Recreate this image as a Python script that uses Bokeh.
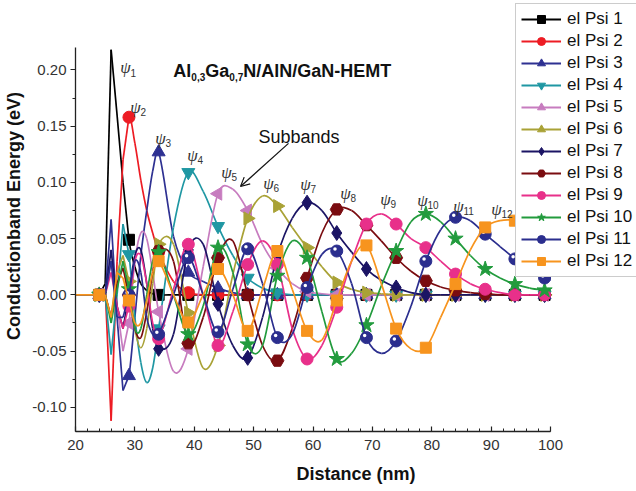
import numpy as np
from bokeh.plotting import figure
from bokeh.models import (Range1d, FixedTicker, PrintfTickFormatter, Legend, LegendItem,
                          Arrow, OpenHead, ColumnDataSource)
from bokeh.embed import file_html
from bokeh.resources import INLINE
from bokeh.core.properties import value

# ---------------- data ----------------
distance = [20, 23, 24, 25, 26, 27, 28, 29, 30, 31, 32, 33, 34, 36.5, 39, 41.5, 44, 46.5,
            49, 51.5, 54, 56.5, 59, 61.5, 64, 66.5, 69, 71.5, 74, 76.5, 79, 81.5, 84, 86.5,
            89, 91.5, 94, 96.5, 99, 100]

psi1 = [0, 0, 0, 0.01, 0.218, 0.16, 0.10, 0.049, 0.025, 0.01, 0.004, 0.001, 0.0, 0, 0, 0, 0, 0,
        0, 0, 0, 0, 0, 0, 0, 0, 0, 0, 0, 0, 0, 0, 0, 0, 0, 0, 0, 0, 0, 0]
psi2 = [0, 0, 0, 0.005, -0.112, 0.03, 0.12, 0.158, 0.135, 0.102, 0.075, 0.055, 0.038, 0.012, 0.002,
        0, 0, 0, 0, 0, 0, 0, 0, 0, 0, 0, 0, 0, 0, 0, 0, 0, 0, 0, 0, 0, 0, 0, 0, 0]
psi3 = [0, 0, 0, 0.0, 0.067, -0.02, -0.085, -0.072, -0.02, 0.035, 0.075, 0.11, 0.127, 0.052, 0.02,
        0.012, 0.006, 0.002, 0, 0, 0, 0, 0, 0, 0, 0, 0, 0, 0, 0, 0, 0, 0, 0, 0, 0, 0, 0, 0, 0]
psi4 = [0, 0, 0, 0.0, -0.053, 0.0, 0.063, 0.036, -0.02, -0.06, -0.078, -0.065, -0.03, 0.06, 0.109,
        0.092, 0.061, 0.035, 0.015, 0.006, 0.002, 0, 0, 0, 0, 0, 0, 0, 0, 0, 0, 0, 0, 0, 0, 0,
        0, 0, 0, 0]
psi5 = [0, 0, 0, 0.0, 0.03, -0.01, -0.05, -0.025, 0.03, 0.055, 0.05, 0.02, -0.015, -0.068, -0.048,
        0.025, 0.09, 0.094, 0.075, 0.045, 0.024, 0.01, 0.003, 0.001, 0, 0, 0, 0, 0, 0, 0, 0, 0,
        0, 0, 0, 0, 0, 0, 0]
psi6 = [0, 0, 0, 0.0, -0.02, 0.02, 0.035, 0.012, -0.03, -0.047, -0.03, 0.01, 0.045, 0.045, -0.016,
        -0.065, -0.045, 0.018, 0.068, 0.088, 0.079, 0.06, 0.042, 0.025, 0.011, 0.005, 0.002, 0.001,
        0, 0, 0, 0, 0, 0, 0, 0, 0, 0, 0, 0]
psi7 = [0, 0, 0, 0.0, 0.04, -0.01, -0.03, 0.0, 0.035, 0.04, 0.01, -0.03, -0.048, -0.035, 0.04,
        0.045, -0.008, -0.045, -0.056, -0.02, 0.035, 0.068, 0.082, 0.075, 0.055, 0.038, 0.023,
        0.013, 0.0066, 0.002, 0.0, 0, 0, 0, 0, 0, 0, 0, 0, 0]
psi8 = [0, 0, 0, 0.0, -0.02, 0.01, 0.024, 0.0, -0.03, -0.038, -0.015, 0.02, 0.039, 0.03, -0.043,
        -0.02, 0.033, 0.048, 0.0, -0.045, -0.0585, -0.03, 0.015, 0.055, 0.076, 0.075, 0.062, 0.048,
        0.033, 0.021, 0.0125, 0.007, 0.004, 0.002, 0.001, 0, 0, 0, 0, 0]
psi9 = [0, 0, 0, 0.0, 0.02, -0.01, -0.03, -0.01, 0.03, 0.035, 0.01, -0.025, -0.039, 0.005, 0.045,
        0.0, -0.045, -0.015, 0.027, 0.048, 0.027, -0.03, -0.057, -0.045, -0.011, 0.03, 0.063, 0.072,
        0.063, 0.05, 0.042, 0.03, 0.0185, 0.01, 0.005, 0.002, 0.0, 0, 0, 0]
psi10 = [0, 0, 0, 0.0, -0.025, 0.005, 0.03, 0.005, -0.03, -0.03, 0.0, 0.03, 0.038, 0.0, -0.035,
         -0.01, 0.042, 0.02, -0.044, -0.045, 0.017, 0.048, 0.033, -0.015, -0.057, -0.052, -0.027,
         0.008, 0.039, 0.065, 0.072, 0.065, 0.050, 0.035, 0.023, 0.015, 0.0096, 0.006, 0.004, 0.0035]
psi11 = [0, 0, 0, 0.0, 0.03, -0.02, -0.02, 0.0, 0.03, 0.02, -0.02, -0.035, -0.035, 0.0, 0.033,
         0.0, -0.033, 0.005, 0.041, 0.01, -0.038, -0.035, 0.0066, 0.036, 0.039, 0.01, -0.038,
         -0.052, -0.041, -0.01, 0.030, 0.058, 0.069, 0.066, 0.054, 0.043, 0.032, 0.022, 0.015, 0.013]
psi12 = [0, 0, 0, 0.0, -0.02, 0.02, 0.015, -0.005, -0.025, -0.025, -0.005, 0.02, 0.030, 0.0,
         -0.0245, 0.0, 0.023, 0.0, -0.032, 0.005, 0.039, 0.005, -0.032, -0.04, -0.005, 0.03, 0.044,
         0.01, -0.030, -0.048, -0.047, -0.02, 0.0096, 0.04, 0.060, 0.066, 0.066, 0.06, 0.05, 0.047]

marker_distance = [24, 29, 34, 39, 44, 49, 54, 59, 64, 69, 74, 79, 84, 89, 94, 99]
series_names = ["el Psi %d" % k for k in range(1, 13)]
series_values = [psi1, psi2, psi3, psi4, psi5, psi6, psi7, psi8, psi9, psi10, psi11, psi12]

x_ticks = [20, 30, 40, 50, 60, 70, 80, 90, 100]
y_ticks = [-0.10, -0.05, 0.00, 0.05, 0.10, 0.15, 0.20]

# ---------------- styles ----------------
colors = ["#000000", "#ED1C24", "#2E3192", "#1F97A3", "#C77CBF", "#A9A236",
          "#1B1464", "#7A0C10", "#E8308A", "#229B3D", "#2B2E8E", "#F7941E"]
markers = ["square", "circle", "triangle", "inverted_triangle", "triangle", "triangle",
           "diamond", "hex", "circle", "star", "circle", "square"]
angles = [0, 0, 0, 0, np.pi / 2, -np.pi / 2, 0, 0, 0, 0, 0, 0]
sizes = [11, 12, 13, 13, 13, 13, 15, 13, 12, 16, 12, 11]
glossy = [False] * 10 + [True, False]

FONT = "Liberation Sans"

# The frame runs to the right and top edges of the page so that the legend
# (which overlaps the top-right corner) is not clipped; the axes are bounded.
p = figure(width=636, height=491, output_backend="svg", toolbar_location=None,
           x_range=Range1d(20, 114.48), y_range=Range1d(-0.1215, 0.2618),
           min_border_left=75, min_border_right=0, min_border_top=0, min_border_bottom=60)
p.outline_line_color = None
p.grid.visible = False
p.background_fill_color = "white"
p.border_fill_color = "white"

# axes
p.xaxis.ticker = FixedTicker(ticks=x_ticks, minor_ticks=list(range(20, 101, 2)))
p.yaxis.ticker = FixedTicker(ticks=y_ticks,
                             minor_ticks=[-0.1, -0.075, -0.05, -0.025, 0.0, 0.025, 0.05, 0.075,
                                          0.1, 0.125, 0.15, 0.175, 0.2])
p.xaxis.bounds = (20, 100)
p.yaxis.bounds = (-0.1215, 0.22)
p.yaxis.formatter = PrintfTickFormatter(format="%.2f")
p.xaxis.axis_label = "Distance (nm)"
p.yaxis.axis_label = "Conductionband Energy (eV)"
for ax in (p.xaxis[0], p.yaxis[0]):
    ax.axis_line_color = "#222222"
    ax.axis_line_width = 1.3
    ax.major_tick_line_color = "#222222"
    ax.minor_tick_line_color = "#222222"
    ax.major_tick_line_width = 1.2
    ax.minor_tick_line_width = 1.0
    ax.major_label_text_font = FONT
    ax.major_label_text_font_size = "15px"
    ax.major_label_text_color = "#333333"
    ax.axis_label_text_font = FONT
    ax.axis_label_text_font_size = "18px"
    ax.axis_label_text_font_style = "bold"
    ax.axis_label_text_color = "#111111"
p.xaxis.major_tick_in = 5
p.xaxis.major_tick_out = 0
p.xaxis.minor_tick_in = 3
p.xaxis.minor_tick_out = 0
p.xaxis.major_label_standoff = 8
p.xaxis.axis_label_standoff = 11
p.yaxis.major_tick_in = 0
p.yaxis.major_tick_out = 5
p.yaxis.minor_tick_in = 0
p.yaxis.minor_tick_out = 3
p.yaxis.major_label_standoff = 4
p.yaxis.axis_label_standoff = 5


def curve_segments(xs, ys):
    """Cubic Bezier pieces through the read points (straight in the sharp barrier region)."""
    n = len(xs)
    m = []
    for i in range(n):
        if i == 0:
            m.append((ys[1] - ys[0]) / (xs[1] - xs[0]))
        elif i == n - 1:
            m.append((ys[-1] - ys[-2]) / (xs[-1] - xs[-2]))
        else:
            m.append((ys[i + 1] - ys[i - 1]) / (xs[i + 1] - xs[i - 1]))
    seg = dict(x0=[], y0=[], x1=[], y1=[], cx0=[], cy0=[], cx1=[], cy1=[])
    for i in range(n - 1):
        h = xs[i + 1] - xs[i]
        seg["x0"].append(xs[i]); seg["y0"].append(ys[i])
        seg["x1"].append(xs[i + 1]); seg["y1"].append(ys[i + 1])
        if xs[i + 1] <= 29:
            d = ys[i + 1] - ys[i]
            seg["cx0"].append(xs[i] + h / 3); seg["cy0"].append(ys[i] + d / 3)
            seg["cx1"].append(xs[i] + 2 * h / 3); seg["cy1"].append(ys[i] + 2 * d / 3)
        else:
            seg["cx0"].append(xs[i] + h / 3); seg["cy0"].append(ys[i] + m[i] * h / 3)
            seg["cx1"].append(xs[i + 1] - h / 3); seg["cy1"].append(ys[i + 1] - m[i + 1] * h / 3)
    return seg


marker_idx = [distance.index(v) for v in marker_distance]
items = []
for k, ys in enumerate(series_values):
    col = colors[k]
    seg = curve_segments(distance, ys)
    p.bezier(x0="x0", y0="y0", x1="x1", y1="y1", cx0="cx0", cy0="cy0", cx1="cx1", cy1="cy1",
             source=ColumnDataSource(seg), line_color=col, line_width=1.7)
    mx = [distance[i] for i in marker_idx]
    my = [ys[i] for i in marker_idx]
    lr = p.line(x=[np.nan], y=[np.nan], line_color=col, line_width=1.8)
    sr = p.scatter(x=mx, y=my, marker=markers[k], size=sizes[k], angle=angles[k],
                   fill_color=col, line_color=col, line_width=1)
    if glossy[k]:
        # small white highlight on the upper left of each sphere marker
        hx = [v - 0.3 for v in mx]
        hy = [v + 0.0018 for v in my]
        p.scatter(x=hx, y=hy, marker="circle", size=3.5, fill_color="white", line_color=None)
    items.append(LegendItem(label=series_names[k], renderers=[lr, sr]))

legend = Legend(items=items, location=(440, 154))
legend.margin = 0
legend.padding = 5
legend.spacing = 2
legend.label_height = 20
legend.glyph_height = 20
legend.glyph_width = 40
legend.label_standoff = 6
legend.label_text_font = FONT
legend.label_text_font_size = "17px"
legend.label_text_color = "#111111"
legend.border_line_color = "#9a9a9a"
legend.border_line_width = 1
legend.background_fill_color = "white"
legend.background_fill_alpha = 1.0
p.add_layout(legend)

# ---------------- annotations ----------------
psi_x = [28.42, 30.10, 34.32, 39.71, 45.43, 52.51, 58.74, 65.47, 72.21, 78.44, 84.50, 90.90]
psi_y = [0.2022, 0.1667, 0.1391, 0.1240, 0.1089, 0.0991, 0.0982, 0.0902, 0.0849, 0.0840,
         0.0787, 0.0760]
psi_sub = [str(k) for k in range(1, 13)]
p.text(x=psi_x, y=psi_y, text=["\u03c8"] * 12, text_font=value("Liberation Serif"),
       text_font_style="italic", text_font_size="17px", text_color="#333333",
       text_align="center", text_baseline="middle")
p.text(x=psi_x, y=psi_y, text=psi_sub, text_font=value(FONT), text_font_size="10px",
       text_color="#333333", text_align="left", text_baseline="middle", x_offset=5, y_offset=5)

title_parts = ["Al", "0,3", "Ga", "0,7", "N/AlN/GaN-HEMT"]
title_x = [36.48, 39.51, 41.87, 45.91, 48.27]
title_y = [0.1987, 0.1935, 0.1987, 0.1935, 0.1987]
title_size = ["18px", "10px", "18px", "10px", "18px"]
p.text(x=title_x, y=title_y, text=title_parts, text_font=value(FONT), text_font_style="bold",
       text_font_size=title_size, text_color="#111111", text_align="left",
       text_baseline="alphabetic")

p.text(x=[50.82], y=[0.140], text=["Subbands"], text_font=value(FONT), text_font_size="18px",
       text_color="#111111", text_align="left", text_baseline="alphabetic")
p.add_layout(Arrow(end=OpenHead(size=9, line_width=1.2, line_color="#111111"),
                   x_start=55.87, y_start=0.1347, x_end=47.79, y_end=0.0964,
                   line_width=1.2, line_color="#111111"))

open("out.html", "w").write(file_html(p, INLINE))
